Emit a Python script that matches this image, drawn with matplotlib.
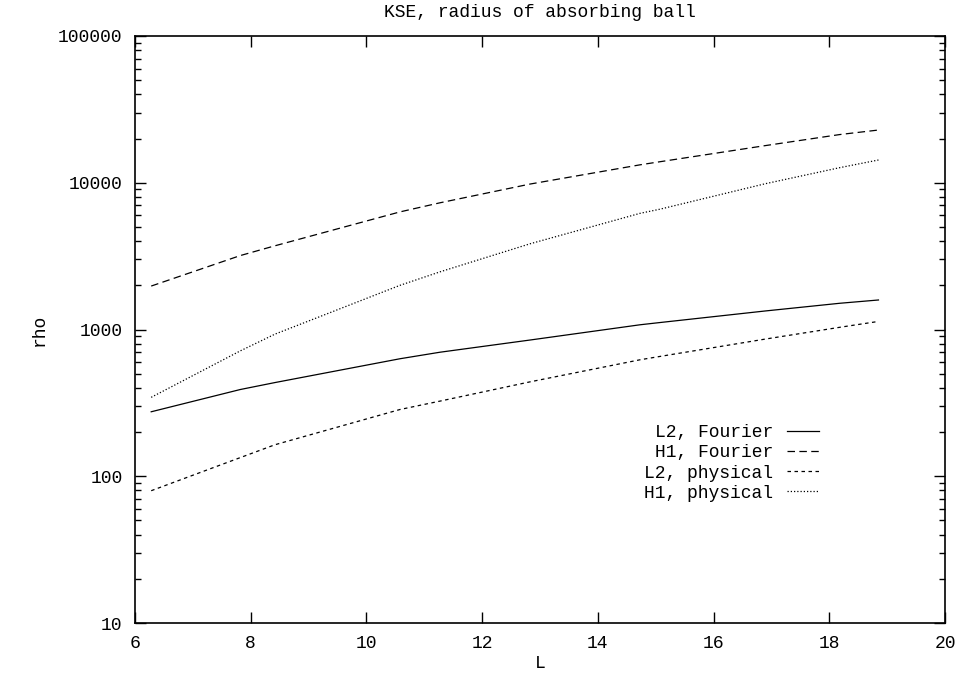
import matplotlib
matplotlib.use("Agg")
import matplotlib.pyplot as plt
from matplotlib.ticker import LogLocator, FixedLocator, NullFormatter

# values (log scale)
L = [6.28, 7.82, 8.42, 10.58, 11.27, 12.83, 14.73, 15.07, 16.89, 18.18, 18.85]
l2_fourier = [275, 390, 435, 632, 700, 848, 1077, 1115, 1337, 1509, 1589]
h1_fourier = [1977, 3190, 3720, 6330, 7300, 9800, 13250, 13900, 17900, 21300, 22870]
l2_physical = [79.7, 134, 164, 285, 325, 440, 622, 655, 860, 1035, 1135]
h1_physical = [345, 715, 930, 2000, 2470, 3840, 6190, 6600, 9840, 12670, 14290]

plt.rcParams['font.family'] = ['Liberation Mono', 'DejaVu Sans Mono']
fs = 13

fig = plt.figure(figsize=(9.59, 6.74), dpi=100)
ax = fig.add_axes([135 / 959, 1 - 623 / 674, 810 / 959, 587 / 674])

lw = 0.9
ax.plot(L, l2_fourier, color='black', lw=lw, linestyle='-', label='L2, Fourier')
ax.plot(L, h1_fourier, color='black', lw=lw, linestyle=(0, (6, 3.5)), label='H1, Fourier')
ax.plot(L, l2_physical, color='black', lw=lw, linestyle=(0, (2.8, 2.8)), label='L2, physical')
ax.plot(L, h1_physical, color='black', lw=lw, linestyle=(0, (1, 1.6)), label='H1, physical')

ax.set_yscale('log')
ax.set_xlim(6, 20)
ax.set_ylim(10, 100000)
ax.xaxis.set_major_locator(FixedLocator([6, 8, 10, 12, 14, 16, 18, 20]))
ax.yaxis.set_major_locator(FixedLocator([10, 100, 1000, 10000, 100000]))
ax.yaxis.set_major_formatter(plt.FuncFormatter(lambda v, p: '%d' % v))
ax.yaxis.set_minor_locator(LogLocator(base=10, subs=range(2, 10)))
ax.yaxis.set_minor_formatter(NullFormatter())

ax.tick_params(which='both', direction='in', top=True, right=True,
               labelsize=fs, colors='black', width=1)
ax.tick_params(which='major', length=8, pad=9)
ax.tick_params(which='minor', length=4)
for s in ax.spines.values():
    s.set_linewidth(1.2)

ax.set_title('KSE, radius of absorbing ball', fontsize=fs, pad=14)
ax.set_xlabel('L', fontsize=fs, labelpad=2)
ax.set_ylabel('rho', fontsize=fs, labelpad=7)

ax.legend(loc='upper right', bbox_to_anchor=(819 / 959, 1 - 424 / 674),
          bbox_transform=fig.transFigure, frameon=False, markerfirst=False,
          fontsize=fs, handlelength=1.8, handletextpad=0.75, labelspacing=0.18,
          borderaxespad=0, borderpad=0)

fig.savefig('out.png', dpi=100)
